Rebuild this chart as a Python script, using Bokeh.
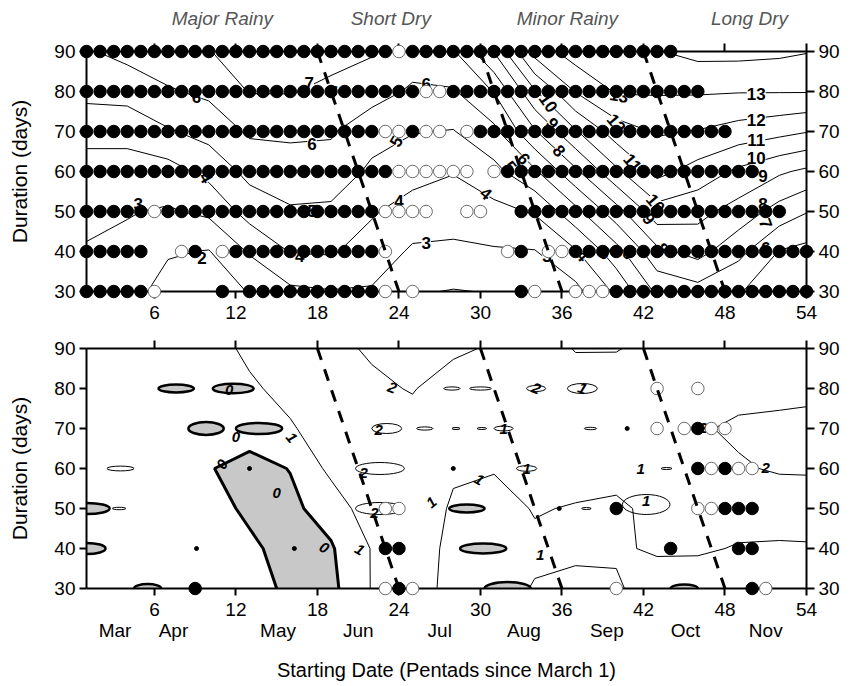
import numpy as np
from bokeh.plotting import figure
from bokeh.models import Range1d, LinearAxis, FixedTicker, CustomJSTickFormatter
from bokeh.layouts import column
from bokeh.embed import file_html
from bokeh.resources import INLINE
from bokeh.core.properties import value

FONT = "Liberation Sans"

# ---------------- data ----------------
pentads = [1, 4, 7, 10, 13, 16, 19, 22, 25, 28, 31, 34, 37, 40, 43, 46, 49, 52, 54]
durations = [30, 40, 50, 60, 70, 80, 90]

# top panel field (rows = durations 30..90, columns = pentads)
top_z = [
    [2.6, 2.4, 1.6, 1.5, 2.05, 2.8, 2.95, 2.9, 2.1, 1.95, 2.05, 2.4, 2.7, 4.2, 6.2, 6.6, 6.05, 5.6, 5.7],
    [2.9, 2.8, 2.1, 1.95, 3.1, 4.05, 4.1, 3.6, 2.85, 2.8, 2.9, 2.95, 3.9, 5.6, 7.75, 8.35, 7.3, 5.95, 5.7],
    [3.3, 3.05, 2.9, 3.2, 4.4, 4.9, 4.8, 4.1, 3.6, 3.45, 3.7, 4.1, 5.7, 7.6, 9.6, 9.3, 8.6, 7.6, 7.05],
    [3.6, 3.6, 3.6, 4.3, 5.3, 5.5, 5.6, 4.8, 4.35, 4.05, 4.7, 5.85, 7.8, 9.8, 11.3, 10.6, 9.8, 9.15, 8.8],
    [4.3, 4.3, 4.9, 5.35, 6.15, 6.2, 6.1, 5.4, 5.05, 4.95, 5.75, 7.9, 9.9, 11.5, 12.1, 11.95, 11.6, 11.3, 11.05],
    [5.3, 5.4, 5.9, 6.2, 7.05, 7.05, 6.8, 6.4, 5.85, 5.9, 7.05, 9.9, 12.05, 13.1, 13.1, 13.1, 13.05, 13.05, 13.05],
    [5.9, 6.3, 6.6, 6.95, 7.6, 7.6, 7.3, 7.1, 6.5, 6.9, 9.05, 12.4, 13.5, 13.8, 13.95, 14.3, 14.3, 14.2, 14.05],
]
top_levels = [2, 3, 4, 5, 6, 7, 8, 9, 10, 11, 12, 13, 14]

# bottom panel field
bot_z = [
    [0.5, 0.5, 0.5, 0.4, 0.4, -0.2, -0.25, 1.05, 1.3, 0.8, 0.7, 1.05, 1.2, 1.1, 0.6, 0.55, 0.6, 0.7, 0.7],
    [0.4, 0.5, 0.5, 0.5, 0.15, -0.3, -0.1, 1.05, 1.4, 0.8, 0.6, 0.85, 0.85, 0.9, 1.1, 1.1, 0.95, 0.9, 0.9],
    [0.4, 0.45, 0.5, 0.3, -0.15, -0.2, 0.4, 1.6, 1.5, 0.9, 0.7, 1.05, 0.95, 0.9, 1.15, 1.3, 1.3, 1.4, 1.5],
    [0.5, 0.45, 0.45, 0.05, -0.3, 0.03, 1.25, 1.55, 1.6, 1.1, 1.05, 1.2, 1.3, 1.2, 1.3, 1.6, 1.9, 2.1, 2.1],
    [0.5, 0.5, 0.5, 0.4, 0.4, 0.9, 1.5, 1.65, 1.7, 1.5, 1.4, 1.3, 1.3, 1.4, 1.6, 1.9, 2.15, 2.25, 2.3],
    [0.5, 0.5, 0.5, 0.55, 0.85, 1.3, 1.6, 1.85, 2.05, 1.6, 1.5, 1.6, 1.45, 1.5, 1.6, 1.75, 1.7, 1.7, 1.75],
    [0.5, 0.5, 0.55, 0.6, 1.2, 1.5, 1.8, 2.1, 2.4, 2.15, 1.9, 1.5, 0.95, 0.95, 1.3, 1.5, 1.6, 1.7, 1.7],
]

# small negative blobs (gray, thick outline) in bottom panel
neg_x = [1.0, 1.0, 7.6, 11.8, 9.8, 13.7, 29.0, 30.2, 5.5, 32.0, 45.0]
neg_y = [50, 40, 80, 80, 70, 70, 50, 40, 30, 30, 30]
neg_w = [3.4, 2.8, 2.6, 3.0, 2.6, 3.4, 2.6, 3.4, 2.0, 3.4, 2.0]
neg_h = [2.8, 2.8, 2.0, 2.4, 3.2, 2.8, 2.0, 2.5, 2.2, 3.2, 2.0]
# small positive loops (thin outline) in bottom panel
loop_x = [23.1, 22.6, 22.6, 3.5, 3.4, 27.9, 30.0, 34.1, 37.5, 25.9, 28.2, 30.1, 31.7, 38.1, 33.4, 43.7, 37.8, 42.2]
loop_y = [70, 60, 50, 60, 50, 80, 80, 80, 80, 70, 70, 70, 70, 70, 60, 60, 50, 51]
loop_w = [2.2, 3.6, 3.6, 2.0, 1.0, 1.2, 1.6, 1.4, 2.2, 1.2, 0.6, 0.7, 1.4, 0.9, 1.5, 0.8, 0.7, 3.5]
loop_h = [2.5, 3.0, 3.0, 1.2, 0.6, 0.8, 0.8, 1.5, 2.5, 0.8, 0.5, 0.5, 1.2, 0.6, 1.4, 0.5, 0.5, 5.0]
spot_x = [13.0, 9.1, 16.3, 28.0, 40.8, 35.8]
spot_y = [60, 40, 40, 60, 70, 50]

# significance dots: one string per duration, one char per pentad 1..54
# F = filled, O = open, . = none   (grouped by 6 pentads)
top_rows = {
    90: "FFFFFF FFFFFF FFFFFF FFFFFO FFFFFF FFFFFF FFFFFF FF.... ......",
    80: "FFFFFF FFFFFF FFFFFF FFFFFF FOOFFF FFFFFF FFFFFF FFFF.. ......",
    70: "FFFFFF FFFFFF FFFFFF FFFFOO FOO.OF FFFFFF FFFFFF FFFFFF ......",
    60: "FFFFFF FFFFFF FFFFFF FFFFFO OOOOO. OFFFFF FFFFFF FFFFFF FF....",
    50: "FFFFFO FFFFFF FFFFFF FFFFOO OO..OO ..FFFF FFFFFF FFFFFF FFFF..",
    40: "FFFFF. .OF.OF FFFFFF FFFFO. ...... .OF.OO FFFFFF FFFFFF FFFFFF",
    30: "FFFFFO ....F. FFFFFF FFFFO. O..... ..FO.. OOOFFF FFFFFF FFFFFF",
}
bot_rows = {
    90: "...... ...... ...... ...... ...... ...... ...... ...... ......",
    80: "...... ...... ...... ...... ...... ...... ...... O..O.. ......",
    70: "...... ...... ...... ...... ...... ...... ...... O.OFOO ......",
    60: "...... ...... ...... ...... ...... ...... ...... ...FOF OO....",
    50: "...... ...... ...... ....OO ...... ...... ...F.. ...OOF FF....",
    40: "...... ...... ...... ....FF ...... ...... ...... .F.... FF....",
    30: "...... ..F... ...... ....OF O..... ...... ...O.. ...... .FO...",
}

# season boundaries (dashed)
dash_x_start = [18, 30, 42]
dash_x_end = [24, 36, 48]
dash_d_start = [90, 90, 90]
dash_d_end = [30, 30, 30]

# contour labels
top_lab_text = ["7", "7", "6", "6", "6", "5", "5", "4", "4", "4", "4", "3", "3", "3", "2",
                "5", "6", "8", "9", "10", "12", "13", "11", "10", "9", "8", "4", "5", "6",
                "13", "12", "11", "10", "9", "8", "7", "6"]
top_lab_x = [17.4, 19.1, 9.1, 17.6, 26.0, 23.8, 17.6, 9.8, 16.7, 24.0, 30.4, 4.8, 26.0, 34.9, 9.5,
             32.2, 33.2, 35.8, 35.3, 35.0, 40.0, 40.2, 41.2, 42.9, 42.4, 43.4, 37.5, 39.2, 40.9,
             50.3, 50.3, 50.3, 50.3, 50.8, 50.8, 51.0, 51.0]
top_lab_y = [82.2, 80.0, 78.6, 67.0, 82.0, 67.5, 50.2, 58.5, 39.0, 52.7, 54.5, 52.0, 42.2, 39.0, 38.3,
             61.2, 63.2, 65.2, 72.0, 77.2, 72.0, 79.0, 62.2, 52.0, 48.2, 40.7, 39.0, 39.5, 39.5,
             79.5, 73.0, 68.0, 63.5, 59.0, 52.0, 47.0, 41.0]
top_lab_angle = [0, -10, 0, 0, 0, 60, 0, -60, 0, 0, -40, 0, 0, 0, 0,
                 -50, -50, -50, -50, -55, -50, -10, -50, -50, -50, -50, -50, -50, -50,
                 0, 0, 0, 0, 0, 0, -70, 0]

bot_lab_text = ["0", "0", "0", "0", "0", "1", "1", "2", "2", "2", "2",
                "1", "1", "1", "1", "1", "2", "1", "1", "1", "2", "2"]
bot_lab_x = [11.5, 12.0, 11.0, 15.0, 18.5, 16.1, 21.1, 23.5, 22.5, 21.4, 22.2,
             26.4, 29.9, 34.4, 31.7, 37.5, 34.1, 33.4, 41.8, 42.2, 46.4, 51.0]
bot_lab_y = [79.7, 68.0, 61.0, 54.0, 40.2, 67.7, 39.7, 80.2, 69.7, 59.0, 49.0,
             51.5, 57.2, 38.5, 70.0, 80.0, 80.0, 60.0, 60.0, 52.0, 70.2, 60.2]
bot_lab_angle = [0, 0, 60, 0, -30, -50, -30, -20, 0, 0, 0,
                 40, -30, 0, 0, -20, -20, 0, 0, 0, 0, 0]

season_names = ["Major Rainy", "Short Dry", "Minor Rainy", "Long Dry"]
season_x = [11.0, 23.4, 36.4, 49.8]
month_names = ["Mar", "Apr", "May", "Jun", "Jul", "Aug", "Sep", "Oct", "Nov"]
month_x = [3.1, 7.4, 15.1, 21.0, 27.0, 33.2, 39.3, 45.1, 51.0]

x_ticks = [6, 12, 18, 24, 30, 36, 42, 48, 54]
y_ticks = [30, 40, 50, 60, 70, 80, 90]


# ---------------- helpers ----------------
def parse_rows(rows):
    fx, fy, ox, oy = [], [], [], []
    for d, s in rows.items():
        s = s.replace(" ", "")
        for i, ch in enumerate(s):
            if ch == "F":
                fx.append(i + 1); fy.append(d)
            elif ch == "O":
                ox.append(i + 1); oy.append(d)
    return fx, fy, ox, oy


def name_formatter(xs, names):
    return CustomJSTickFormatter(args=dict(xs=xs, names=names), code="""
        for (let i = 0; i < xs.length; i++) {
            if (Math.abs(xs[i] - tick) < 1e-6) { return names[i]; }
        }
        return '';
    """)


def style_axis(ax, tick_out, labels=True):
    ax.axis_line_width = 2
    ax.axis_line_color = "black"
    ax.major_tick_line_width = 2
    ax.major_tick_line_color = "black"
    ax.major_tick_out = tick_out
    ax.major_tick_in = 0
    ax.minor_tick_out = 0
    ax.minor_tick_in = 0
    ax.major_label_text_font = FONT
    ax.major_label_text_font_size = "19px"
    ax.major_label_text_color = "black"
    ax.major_label_standoff = 4
    ax.axis_label_text_font = FONT
    ax.axis_label_text_font_size = "21px"
    ax.axis_label_text_font_style = "normal"
    ax.axis_label_text_color = "black"
    if not labels:
        ax.formatter = CustomJSTickFormatter(code="return ''")
        ax.major_label_text_font_size = "0px"
        ax.major_label_standoff = 0


def name_axis(xs, names, size, style, color, standoff):
    ax = LinearAxis(ticker=FixedTicker(ticks=xs), formatter=name_formatter(xs, names))
    ax.axis_line_color = None
    ax.major_tick_line_color = None
    ax.minor_tick_line_color = None
    ax.major_tick_out = 0
    ax.major_tick_in = 0
    ax.minor_tick_out = 0
    ax.minor_tick_in = 0
    ax.major_label_text_font = FONT
    ax.major_label_text_font_size = size
    ax.major_label_text_font_style = style
    ax.major_label_text_color = color
    ax.major_label_standoff = standoff
    ax.axis_label_text_font = FONT
    ax.axis_label_text_font_size = "20px"
    ax.axis_label_text_font_style = "normal"
    ax.axis_label_text_color = "black"
    return ax


def make_fig(height, top_b, bottom_b):
    p = figure(width=850, height=height, x_range=Range1d(1, 54), y_range=Range1d(30, 90),
               output_backend="svg", toolbar_location=None,
               x_axis_location=None, y_axis_location=None, min_border=0)
    p.min_border_left = 86
    p.min_border_right = 44
    p.min_border_top = top_b
    p.min_border_bottom = bottom_b
    p.outline_line_color = None
    p.grid.visible = False
    p.background_fill_color = "white"
    p.border_fill_color = "white"
    xt = FixedTicker(ticks=x_ticks)
    yt = FixedTicker(ticks=y_ticks)
    bottom = LinearAxis(ticker=xt)
    style_axis(bottom, 7)
    bottom.major_label_standoff = 7
    p.add_layout(bottom, "below")
    top = LinearAxis(ticker=xt)
    style_axis(top, 8, labels=False)
    p.add_layout(top, "above")
    left = LinearAxis(ticker=yt, axis_label="Duration (days)")
    style_axis(left, 7)
    left.axis_label_standoff = 20
    p.add_layout(left, "left")
    right = LinearAxis(ticker=yt)
    style_axis(right, 8)
    p.add_layout(right, "right")
    return p


def add_dots(p, rows):
    fx, fy, ox, oy = parse_rows(rows)
    if ox:
        p.scatter(ox, oy, marker="circle", size=12.5, fill_color="white",
                  line_color="#6a6a6a", line_width=1, level="overlay")
    if fx:
        p.scatter(fx, fy, marker="circle", size=12.5, fill_color="black",
                  line_color="black", line_width=1, level="overlay")


def add_dashes(p):
    p.segment(x0=dash_x_start, y0=dash_d_start, x1=dash_x_end, y1=dash_d_end,
              line_color="black", line_width=3, line_dash="12 10", level="overlay")


x = np.array(pentads, dtype=float)
y = np.array(durations, dtype=float)

# ---------------- top panel ----------------
p1 = make_fig(329, 51, 38)
p1.contour(x, y, np.array(top_z), levels=top_levels, line_color="black", line_width=1)
p1.text(x=top_lab_x, y=top_lab_y, text=top_lab_text, angle=top_lab_angle, angle_units="deg",
        text_font=value(FONT), text_font_size="17px", text_font_style="bold",
        text_align="center", text_baseline="middle", text_color="black",
        background_fill_color="white")
add_dots(p1, top_rows)
add_dashes(p1)
p1.add_layout(name_axis(season_x, season_names, "19px", "italic", "#555555", 15), "above")

# ---------------- bottom panel ----------------
p2 = make_fig(355, 19, 96)
zb = np.array(bot_z)
p2.contour(x, y, zb, levels=[-5, 0], fill_color="#c8c8c8", line_color="black", line_width=3)
p2.contour(x, y, zb, levels=[1, 2], line_color="black", line_width=1)
p2.ellipse(x=neg_x, y=neg_y, width=neg_w, height=neg_h, fill_color="#c8c8c8",
           line_color="black", line_width=2.5)
p2.ellipse(x=loop_x, y=loop_y, width=loop_w, height=loop_h, fill_color=None,
           line_color="black", line_width=1)
p2.scatter(spot_x, spot_y, marker="circle", size=4, fill_color="black", line_color="black")
p2.text(x=bot_lab_x, y=bot_lab_y, text=bot_lab_text, angle=bot_lab_angle, angle_units="deg",
        text_font=value(FONT), text_font_size="15px", text_font_style="bold italic",
        text_align="center", text_baseline="middle", text_color="black")
add_dots(p2, bot_rows)
add_dashes(p2)
month_axis = name_axis(month_x, month_names, "19px", "normal", "black", 1)
month_axis.axis_label = "Starting Date (Pentads since March 1)"
month_axis.axis_label_standoff = 15
p2.add_layout(month_axis, "below")

layout = column(p1, p2, spacing=0)
open("out.html", "w").write(file_html(layout, INLINE))
